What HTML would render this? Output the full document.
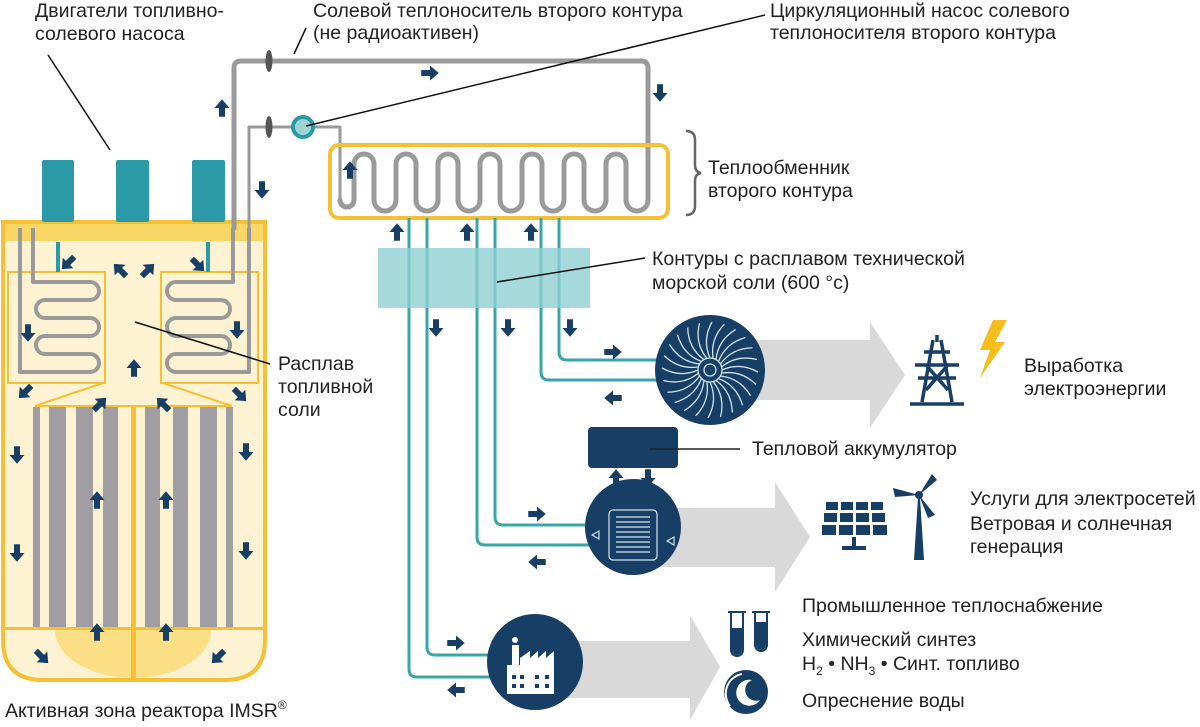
<!DOCTYPE html>
<html><head><meta charset="utf-8"><style>
html,body{margin:0;padding:0;background:#fff;}
svg{display:block}
text{font-family:"Liberation Sans Narrow","Liberation Sans",sans-serif;font-size:19.5px;fill:#222;}
</style></head><body>
<svg width="1200" height="727" viewBox="0 0 1200 727" xmlns="http://www.w3.org/2000/svg">
<defs>
<symbol id="ar" viewBox="-7 -8 14 16" overflow="visible"><path d="M0,-7 L6,0 L2.4,0 L2.4,7 L-2.4,7 L-2.4,0 L-6,0Z" fill="#173f66"/></symbol>
<clipPath id="rc"><path d="M3,222 H265 V640 Q265,680 225,680 H43 Q3,680 3,640 Z"/></clipPath>
</defs>

<!-- gray big arrows -->
<g fill="#d9d9d9">
<path d="M710,340 H870 V322 L905,375 L870,428 V400 H710Z"/>
<path d="M633,508 H775 V482 L810,537 L775,592 V567 H633Z"/>
<path d="M540,641 H690 V615 L720,667 L690,720 V698 H540Z"/>
</g>

<!-- reactor -->
<path d="M3,222 H265 V640 Q265,680 225,680 H43 Q3,680 3,640 Z" fill="#fdf3d2" stroke="#f5c033" stroke-width="4"/>
<rect x="5" y="224" width="258" height="17" fill="#f9d665"/>
<g clip-path="url(#rc)"><ellipse cx="133" cy="630" rx="78" ry="48" fill="#fcdf85"/></g>
<rect x="5" y="404" width="258" height="224" fill="#fdf3d2"/>
<rect x="5" y="627" width="258" height="3" fill="#f5c033"/>
<g fill="#a09ea3">
<rect x="33" y="407" width="7" height="220"/><rect x="49" y="407" width="17" height="220"/><rect x="76" y="407" width="17" height="220"/><rect x="103" y="407" width="15" height="220"/>
<rect x="145" y="407" width="15" height="220"/><rect x="173" y="407" width="15" height="220"/><rect x="200" y="407" width="17" height="220"/><rect x="226" y="407" width="7" height="220"/>
</g>
<rect x="131" y="405" width="5" height="273" fill="#f5c033"/>
<g fill="none" stroke="#f5c033" stroke-width="2">
<rect x="8" y="272" width="97" height="111"/><rect x="161" y="272" width="97" height="111"/>
<path d="M103,383 L35,406 H232 L163,383"/>
</g>
<g stroke="#2a9ba6" stroke-width="4"><line x1="58" y1="242" x2="58" y2="272"/><line x1="208" y1="242" x2="208" y2="272"/></g>
<g fill="#2a9ba6"><rect x="42" y="160" width="32" height="62" rx="2"/><rect x="116" y="160" width="33" height="62" rx="2"/><rect x="192" y="160" width="33" height="62" rx="2"/></g>
<g fill="none" stroke="#9a9a9a" stroke-width="4" stroke-linejoin="round">
<path d="M33,228 V282 H90 A9,9 0 0 1 90,300 H45 A9,9 0 0 0 45,318 H90 A9,9 0 0 1 90,336 H45 A9,9 0 0 0 45,354 H90 A9,9 0 0 1 90,372 H20 V228"/>
<path d="M233,228 V282 H176 A9,9 0 0 0 176,300 H221 A9,9 0 0 1 221,318 H176 A9,9 0 0 0 176,336 H221 A9,9 0 0 1 221,354 H176 A9,9 0 0 0 176,372 H249 V228"/>
</g>

<!-- secondary gray loop -->
<g fill="none" stroke="#9a9a9a" stroke-linejoin="round" stroke-linecap="round">
<path d="M234,228 V68 Q234,61 241,61 H641 Q648,61 648,68 V200" stroke-width="5"/>
<path d="M249,228 V127 H340 V200" stroke-width="3"/>
<path d="M340,200 A7,7 0 0 0 354,200 V164 A10,10 0 0 1 374,164 V200 A11,11 0 0 0 396,200 V164 A10,10 0 0 1 416,164 V200 A11,11 0 0 0 438,200 V164 A10,10 0 0 1 458,164 V200 A11,11 0 0 0 480,200 V164 A10,10 0 0 1 500,164 V200 A11,11 0 0 0 522,200 V164 A10,10 0 0 1 542,164 V200 A11,11 0 0 0 564,200 V164 A10,10 0 0 1 584,164 V200 A11,11 0 0 0 606,200 V164 A10,10 0 0 1 626,164 V200 A11,11 0 0 0 648,200" stroke-width="5"/>
</g>
<ellipse cx="269" cy="61" rx="3.5" ry="11" fill="#555"/>
<ellipse cx="269" cy="127" rx="3.5" ry="11" fill="#555"/>
<circle cx="303" cy="127" r="10" fill="#9fd3d6" stroke="#2a9ba6" stroke-width="4"/>
<rect x="330" y="145" width="338" height="73" rx="9" fill="none" stroke="#f5c033" stroke-width="4"/>
<path d="M686,131 Q695,131 695,140 V165 Q695,172 701,173 Q695,174 695,181 V206 Q695,215 686,215" fill="none" stroke="#666" stroke-width="2.5"/>

<!-- teal pipes -->
<g fill="none" stroke="#3aa6a8" stroke-width="3">
<path d="M559,218 V352 Q559,360 567,360 H660"/>
<path d="M541,218 V372 Q541,380 549,380 H660"/>
<path d="M495,218 V517 Q495,525 503,525 H590"/>
<path d="M477,218 V537 Q477,545 485,545 H590"/>
<path d="M427,218 V647 Q427,655 435,655 H495"/>
<path d="M409,218 V669 Q409,677 417,677 H495"/>
</g>
<rect x="378" y="248" width="212" height="60" fill="#8fcfd2" opacity="0.8"/>

<!-- turbine -->
<circle cx="710" cy="370" r="55" fill="#173f66"/>
<g stroke="#cfe3ee" stroke-width="1.3" fill="none">
<circle cx="710" cy="370" r="12"/><circle cx="710" cy="370" r="6"/>
<g id="bl"><path d="M722,370 Q740,362 758,372"/></g>
<use href="#bl" transform="rotate(15 710 370)"/><use href="#bl" transform="rotate(30 710 370)"/><use href="#bl" transform="rotate(45 710 370)"/><use href="#bl" transform="rotate(60 710 370)"/><use href="#bl" transform="rotate(75 710 370)"/><use href="#bl" transform="rotate(90 710 370)"/><use href="#bl" transform="rotate(105 710 370)"/><use href="#bl" transform="rotate(120 710 370)"/><use href="#bl" transform="rotate(135 710 370)"/><use href="#bl" transform="rotate(150 710 370)"/><use href="#bl" transform="rotate(165 710 370)"/><use href="#bl" transform="rotate(180 710 370)"/><use href="#bl" transform="rotate(195 710 370)"/><use href="#bl" transform="rotate(210 710 370)"/><use href="#bl" transform="rotate(225 710 370)"/><use href="#bl" transform="rotate(240 710 370)"/><use href="#bl" transform="rotate(255 710 370)"/><use href="#bl" transform="rotate(270 710 370)"/><use href="#bl" transform="rotate(285 710 370)"/><use href="#bl" transform="rotate(300 710 370)"/><use href="#bl" transform="rotate(315 710 370)"/><use href="#bl" transform="rotate(330 710 370)"/><use href="#bl" transform="rotate(345 710 370)"/>
</g>

<!-- storage + thermal -->
<rect x="588" y="427" width="90" height="41" rx="4" fill="#173f66"/>
<line x1="650" y1="449" x2="740" y2="449" stroke="#222" stroke-width="1.5"/>
<circle cx="633" cy="527" r="48" fill="#173f66"/>
<g stroke="#cfe3ee" stroke-width="1.2" fill="none">
<rect x="609" y="510" width="48" height="50" rx="4"/>
<path d="M616,517h34M616,522h34M616,527h34M616,532h34M616,537h34M616,542h34M616,547h34M616,552h34"/>
<path d="M592,535 l7,-4 v8z M667,541 l7,-4 v8z"/>
</g>
<!-- factory -->
<circle cx="535" cy="662" r="48" fill="#173f66"/>
<g fill="#fff">
<rect x="512" y="645" width="7" height="22"/><circle cx="515" cy="640" r="3"/>
<path d="M507,665 H520 V658 L530,651 V658 L538,651 V658 L546,651 V658 L554,651 V694 H507Z"/>
</g>
<g fill="#173f66"><rect x="512" y="675" width="4" height="4"/><rect x="520" y="675" width="4" height="4"/><rect x="535" y="675" width="4" height="4"/><rect x="545" y="675" width="4" height="4"/><rect x="512" y="684" width="4" height="4"/><rect x="520" y="684" width="4" height="4"/><rect x="535" y="684" width="4" height="4"/><rect x="545" y="684" width="4" height="4"/></g>

<!-- pylon + bolt -->
<g stroke="#173f66" stroke-width="3.5" fill="none">
<path d="M933,340 L922,402 M941,340 L952,402 M924,352 H950 M915,365 H959 M918,378 H956 M926,365 L948,390 M948,365 L926,390 M910,404 H964"/>
<path d="M937,335 V342"/>
</g>
<path d="M993,320 L980,350 H990 L980,378 L1005,342 H995 L1007,320Z" fill="#f6bd1c"/>

<!-- solar + wind -->
<g fill="#173f66">
<rect x="826" y="502" width="12" height="8"/><rect x="841" y="502" width="12" height="8"/><rect x="856" y="502" width="12" height="8"/><rect x="871" y="502" width="12" height="8"/>
<rect x="824" y="513" width="13" height="9"/><rect x="840" y="513" width="13" height="9"/><rect x="856" y="513" width="13" height="9"/><rect x="872" y="513" width="13" height="9"/>
<rect x="822" y="525" width="14" height="10"/><rect x="839" y="525" width="14" height="10"/><rect x="856" y="525" width="14" height="10"/><rect x="873" y="525" width="14" height="10"/>
<rect x="852" y="537" width="4" height="10"/><rect x="842" y="546" width="24" height="4"/>
<path d="M918,498 L914,560 H924 L920,498Z"/>
<path d="M919,495 L932,474 L937,480Z M919,495 L893,488 L895,497Z M919,495 L935,515 L928,518Z"/>
<circle cx="919" cy="495" r="4"/>
</g>
<!-- tubes + wave -->
<g fill="none" stroke="#173f66" stroke-width="2"><path d="M731,612 V650 A6,6 0 0 0 743,650 V612 M728,612 H746"/><path d="M755,612 V645 A6,6 0 0 0 767,645 V612 M752,612 H770"/></g>
<path d="M732,628 H742 V650 A5,5 0 0 1 732,650Z M756,622 H766 V645 A5,5 0 0 1 756,645Z" fill="#173f66"/>
<circle cx="746" cy="692" r="22" fill="#173f66"/>
<path d="M752,680 A13,13 0 1 0 760,700 A9,9 0 1 1 752,680Z" fill="#fff"/>
<path d="M742,674 A20,20 0 0 0 730,706" stroke="#fff" stroke-width="2" fill="none"/>

<!-- flow arrows -->
<g>
<use href="#ar" x="-9" y="-10" width="18" height="20" transform="translate(430,73) rotate(90)"/>
<use href="#ar" x="-9" y="-10" width="18" height="20" transform="translate(660,93) rotate(180)"/>
<use href="#ar" x="-9" y="-10" width="18" height="20" transform="translate(222,108)"/>
<use href="#ar" x="-9" y="-10" width="18" height="20" transform="translate(262,190) rotate(180)"/>
<use href="#ar" x="-9" y="-10" width="18" height="20" transform="translate(350,170)"/>
<use href="#ar" x="-9" y="-10" width="18" height="20" transform="translate(397,232)"/>
<use href="#ar" x="-9" y="-10" width="18" height="20" transform="translate(467,232)"/>
<use href="#ar" x="-9" y="-10" width="18" height="20" transform="translate(531,232)"/>
<use href="#ar" x="-9" y="-10" width="18" height="20" transform="translate(436,328) rotate(180)"/>
<use href="#ar" x="-9" y="-10" width="18" height="20" transform="translate(508,328) rotate(180)"/>
<use href="#ar" x="-9" y="-10" width="18" height="20" transform="translate(570,328) rotate(180)"/>
<use href="#ar" x="-9" y="-10" width="18" height="20" transform="translate(613,352) rotate(90)"/>
<use href="#ar" x="-9" y="-10" width="18" height="20" transform="translate(613,398) rotate(-90)"/>
<use href="#ar" x="-9" y="-10" width="18" height="20" transform="translate(537,514) rotate(90)"/>
<use href="#ar" x="-9" y="-10" width="18" height="20" transform="translate(537,562) rotate(-90)"/>
<use href="#ar" x="-9" y="-10" width="18" height="20" transform="translate(456,643) rotate(90)"/>
<use href="#ar" x="-9" y="-10" width="18" height="20" transform="translate(456,690) rotate(-90)"/>
<use href="#ar" x="-9" y="-10" width="18" height="20" transform="translate(616,478)"/>
<use href="#ar" x="-9" y="-10" width="18" height="20" transform="translate(648,478) rotate(180)"/>
<use href="#ar" x="-9" y="-10" width="18" height="20" transform="translate(68,263) rotate(225)"/>
<use href="#ar" x="-9" y="-10" width="18" height="20" transform="translate(120,270) rotate(-45)"/>
<use href="#ar" x="-9" y="-10" width="18" height="20" transform="translate(148,270) rotate(45)"/>
<use href="#ar" x="-9" y="-10" width="18" height="20" transform="translate(198,265) rotate(135)"/>
<use href="#ar" x="-9" y="-10" width="18" height="20" transform="translate(28,333) rotate(180)"/>
<use href="#ar" x="-9" y="-10" width="18" height="20" transform="translate(237,330) rotate(180)"/>
<use href="#ar" x="-9" y="-10" width="18" height="20" transform="translate(134,368)"/>
<use href="#ar" x="-9" y="-10" width="18" height="20" transform="translate(25,392) rotate(225)"/>
<use href="#ar" x="-9" y="-10" width="18" height="20" transform="translate(240,395) rotate(135)"/>
<use href="#ar" x="-9" y="-10" width="18" height="20" transform="translate(100,404) rotate(45)"/>
<use href="#ar" x="-9" y="-10" width="18" height="20" transform="translate(163,404) rotate(-45)"/>
<use href="#ar" x="-9" y="-10" width="18" height="20" transform="translate(17,455) rotate(180)"/>
<use href="#ar" x="-9" y="-10" width="18" height="20" transform="translate(246,452) rotate(180)"/>
<use href="#ar" x="-9" y="-10" width="18" height="20" transform="translate(97,500)"/>
<use href="#ar" x="-9" y="-10" width="18" height="20" transform="translate(166,500)"/>
<use href="#ar" x="-9" y="-10" width="18" height="20" transform="translate(17,553) rotate(180)"/>
<use href="#ar" x="-9" y="-10" width="18" height="20" transform="translate(246,551) rotate(180)"/>
<use href="#ar" x="-9" y="-10" width="18" height="20" transform="translate(97,632)"/>
<use href="#ar" x="-9" y="-10" width="18" height="20" transform="translate(166,632)"/>
<use href="#ar" x="-9" y="-10" width="18" height="20" transform="translate(42,657) rotate(135)"/>
<use href="#ar" x="-9" y="-10" width="18" height="20" transform="translate(218,657) rotate(225)"/>
</g>

<!-- leader lines -->
<g stroke="#111" stroke-width="1.5">
<line x1="48" y1="55" x2="110" y2="150"/>
<line x1="306" y1="28" x2="294" y2="54"/>
<line x1="765" y1="15" x2="306" y2="126"/>
<line x1="645" y1="258" x2="497" y2="282"/>
<line x1="135" y1="322" x2="270" y2="364"/>
</g>

<!-- labels -->
<text x="35" y="17">Двигатели топливно-</text>
<text x="35" y="40">солевого насоса</text>
<text x="313" y="17">Солевой теплоноситель второго контура</text>
<text x="313" y="39">(не радиоактивен)</text>
<text x="770" y="17">Циркуляционный насос солевого</text>
<text x="770" y="39">теплоносителя второго контура</text>
<text x="708" y="174">Теплообменник</text>
<text x="708" y="197">второго контура</text>
<text x="652" y="265">Контуры с расплавом технической</text>
<text x="652" y="289">морской соли (600 °с)</text>
<text x="278" y="370">Расплав</text>
<text x="278" y="393">топливной</text>
<text x="278" y="416">соли</text>
<text x="752" y="455">Тепловой аккумулятор</text>
<text x="1024" y="372">Выработка</text>
<text x="1024" y="395">электроэнергии</text>
<text x="970" y="505">Услуги для электросетей</text>
<text x="970" y="530">Ветровая и солнечная</text>
<text x="970" y="553">генерация</text>
<text x="802" y="612">Промышленное теплоснабжение</text>
<text x="802" y="646">Химический синтез</text>
<text x="802" y="670">H<tspan font-size="12" dy="5">2</tspan><tspan dy="-5"> • NH</tspan><tspan font-size="12" dy="5">3</tspan><tspan dy="-5"> • Синт. топливо</tspan></text>
<text x="802" y="707">Опреснение воды</text>
<text x="5" y="717">Активная зона реактора IMSR<tspan font-size="12" dy="-8">®</tspan></text>
</svg>
</body></html>
